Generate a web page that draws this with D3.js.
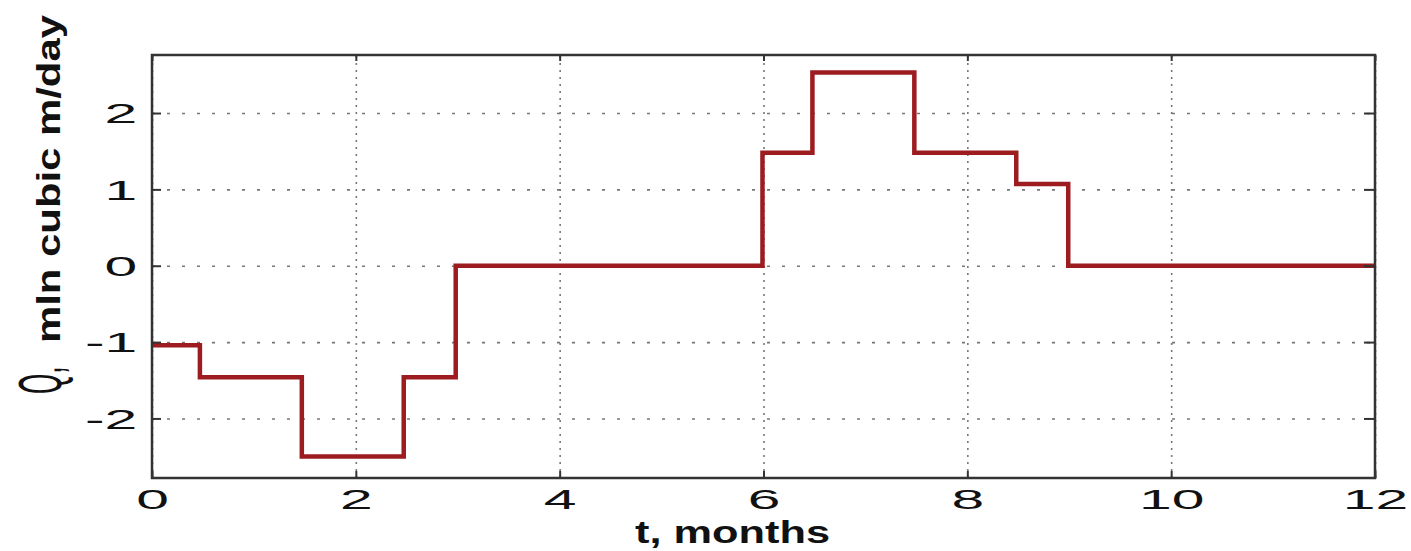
<!DOCTYPE html>
<html>
<head>
<meta charset="utf-8">
<script src="https://cdn.jsdelivr.net/npm/d3@7"></script>
<style>
  body { margin: 0; background: #fff; }
  .grid line { stroke: #777; stroke-width: 1.6; }
  .grid path { display: none; }
</style>
</head>
<body>
<script>
var canvasWidth = 1411;
var canvasHeight = 551;
var plot = { left: 152, right: 1375, top: 55, bottom: 478 };

// step changes of the flow (months) and the level held after each change
var stepTimes = [0, 0.47, 1.47, 2.47, 2.98, 5.99, 6.48, 7.48, 8.48, 8.99];
var flowValues = [-1.04, -1.46, -2.5, -1.46, 0, 1.48, 2.53, 1.48, 1.07, 0];
var xTicks = [0, 2, 4, 6, 8, 10, 12];
var yTicks = [-2, -1, 0, 1, 2];
var xLabel = "t, months";
var yLabelQ = "Q,";
var yLabel = "mln cubic m/day";

var svg = d3.select("body").append("svg")
    .attr("width", canvasWidth)
    .attr("height", canvasHeight)
    .style("background", "#fff");

var xScale = d3.scaleLinear().domain([0, 12]).range([plot.left, plot.right]);
var yScale = d3.scaleLinear().domain([-2.78, 2.76]).range([plot.bottom, plot.top]);
var h = plot.bottom - plot.top;
var w = plot.right - plot.left;
var plain = function(d) { return String(d); };   // keep a hyphen minus like the original

// dotted grid
svg.append("g")
    .attr("class", "grid")
    .attr("transform", "translate(0," + plot.bottom + ")")
    .call(d3.axisBottom(xScale).tickValues(xTicks).tickSize(-h).tickFormat(""))
    .selectAll("line").attr("stroke-dasharray", "2 5");

svg.append("g")
    .attr("class", "grid")
    .attr("transform", "translate(" + plot.left + ",0)")
    .call(d3.axisLeft(yScale).tickValues(yTicks).tickSize(-w).tickFormat(""))
    .selectAll("line").attr("stroke-dasharray", "3 12");

// the step line
var pts = stepTimes.map(function(t, i) { return [t, flowValues[i]]; });
pts.push([12, flowValues[flowValues.length - 1]]);

var line = d3.line()
    .x(function(d) { return xScale(d[0]); })
    .y(function(d) { return yScale(d[1]); })
    .curve(d3.curveStepAfter);

svg.append("path")
    .datum(pts)
    .attr("d", line)
    .style("fill", "none")
    .style("stroke", "#9c1c20")
    .style("stroke-width", 4.5)
    .style("stroke-linejoin", "miter");

// axes with inward ticks
function styleAxis(g) {
    g.select(".domain").remove();
    g.selectAll(".tick line").attr("stroke", "#333").attr("stroke-width", 2);
}

var xAxis = svg.append("g")
    .attr("transform", "translate(0," + plot.bottom + ")")
    .call(d3.axisBottom(xScale).tickValues(xTicks).tickSize(-7).tickFormat(plain))
    .call(styleAxis);
xAxis.selectAll(".tick text")
    .attr("y", 31)
    .attr("dy", null)
    .attr("transform", "scale(2.1,1)")
    .attr("font-family", "Liberation Sans, Arial, sans-serif")
    .attr("font-size", "28px")
    .attr("fill", "#111");

svg.append("g")
    .attr("transform", "translate(0," + plot.top + ")")
    .call(d3.axisTop(xScale).tickValues(xTicks).tickSize(-6).tickFormat(""))
    .call(styleAxis);

var yAxis = svg.append("g")
    .attr("transform", "translate(" + plot.left + ",0)")
    .call(d3.axisLeft(yScale).tickValues(yTicks).tickSize(-9).tickFormat(plain))
    .call(styleAxis);
yAxis.selectAll(".tick text")
    .attr("x", -7)
    .attr("dy", "0.35em")
    .attr("transform", "scale(2.1,1)")
    .attr("font-family", "Liberation Sans, Arial, sans-serif")
    .attr("font-size", "28px")
    .attr("fill", "#111");

svg.append("g")
    .attr("transform", "translate(" + plot.right + ",0)")
    .call(d3.axisRight(yScale).tickValues(yTicks).tickSize(-11).tickFormat(""))
    .call(styleAxis);

// frame
svg.append("rect")
    .attr("x", plot.left)
    .attr("y", plot.top)
    .attr("width", w)
    .attr("height", h)
    .attr("fill", "none")
    .attr("stroke", "#333")
    .attr("stroke-width", 2.5);

// axis labels
svg.append("text")
    .attr("x", 635)
    .attr("y", 543)
    .attr("font-family", "Liberation Sans, Arial, sans-serif")
    .attr("font-weight", "bold")
    .attr("font-size", "32px")
    .attr("fill", "#111")
    .attr("textLength", 195)
    .attr("lengthAdjust", "spacingAndGlyphs")
    .text(xLabel);

svg.append("text")
    .attr("transform", "translate(61,394) rotate(-90) scale(0.42,1)")
    .attr("font-family", "Liberation Sans, Arial, sans-serif")
    .attr("font-size", "62px")
    .attr("fill", "#111")
    .text(yLabelQ);

svg.append("text")
    .attr("transform", "translate(60,343) rotate(-90)")
    .attr("font-family", "Liberation Sans, Arial, sans-serif")
    .attr("font-weight", "bold")
    .attr("font-size", "33px")
    .attr("fill", "#111")
    .attr("textLength", 328)
    .attr("lengthAdjust", "spacingAndGlyphs")
    .text(yLabel);
</script>
</body>
</html>
